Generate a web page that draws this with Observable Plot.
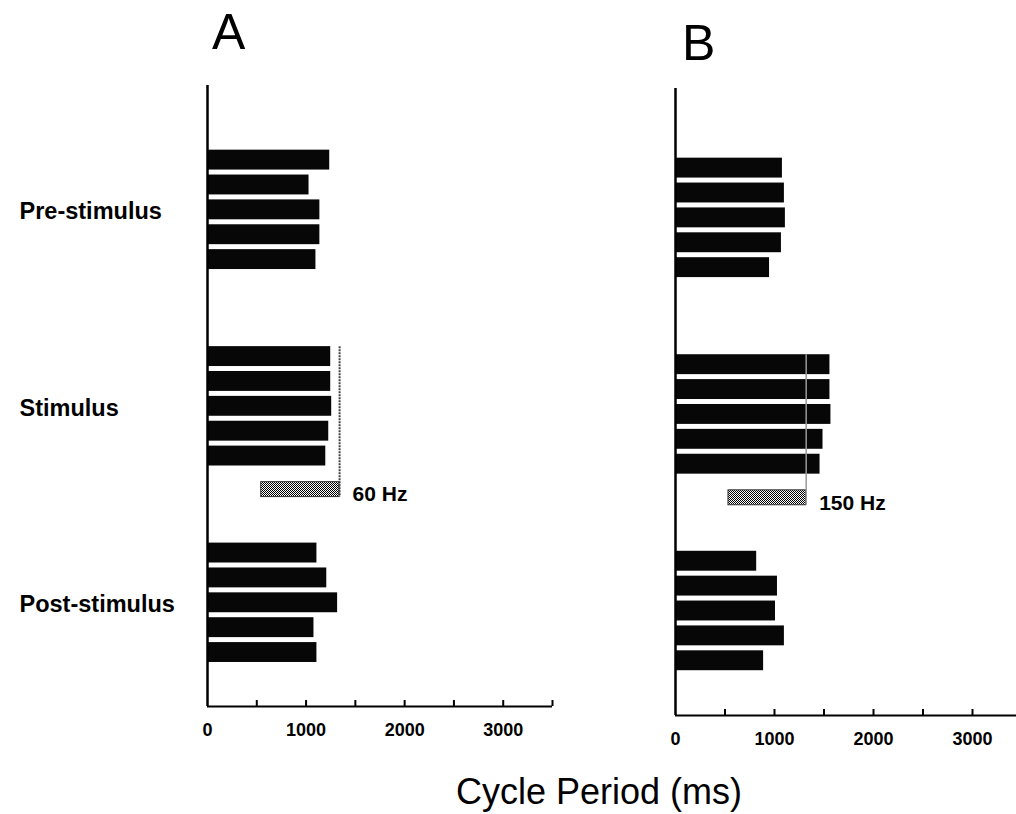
<!DOCTYPE html>
<html>
<head>
<meta charset="utf-8">
<script src="https://cdn.jsdelivr.net/npm/d3@7"></script>
<script src="https://cdn.jsdelivr.net/npm/@observablehq/plot@0.6"></script>
<style>
  html, body { margin: 0; padding: 0; background: #fff; overflow: hidden; }
  #page { position: relative; width: 1016px; height: 814px; background: #fff; font-family: "Liberation Sans", Arial, sans-serif; overflow: hidden; }
  .panel { position: absolute; top: 0; width: 560px; height: 760px; }
  .panel svg { max-width: none !important; }
  .title { position: absolute; line-height: 1; color: #000; white-space: nowrap; }
</style>
</head>
<body>
<div id="page">
  <div class="title" style="left:212px; top:7px; font-size:50px;">A</div>
  <div class="title" style="left:682px; top:18px; font-size:50px;">B</div>
  <div class="title" style="left:399px; width:400px; text-align:center; top:774px; font-size:36px;">Cycle Period (ms)</div>
  <div id="panelA" class="panel" style="left:0px;"></div>
  <div id="panelB" class="panel" style="left:470px;"></div>
</div>
<script>
// ---- data (cycle periods in ms) ----
const groups = ["Pre-stimulus", "Stimulus", "Post-stimulus"];
const periodsA_pre  = [1240, 1030, 1140, 1140, 1100];
const periodsA_stim = [1250, 1250, 1260, 1230, 1200];
const periodsA_post = [1110, 1210, 1320, 1080, 1110];
const periodsB_pre  = [1080, 1100, 1110, 1070, 950];
const periodsB_stim = [1560, 1560, 1570, 1490, 1460];
const periodsB_post = [820, 1030, 1010, 1100, 890];
const stimWindowA = [545, 1340];
const stimWindowB = [535, 1320];
const stimLabelA = "60 Hz";
const stimLabelB = "150 Hz";
const tickValues = [0, 500, 1000, 1500, 2000, 2500, 3000, 3500];
const tickLabels = [0, 1000, 2000, 3000];

// ---- layout (row units) ----
const groupSpacing = 7.9;
const hatchOffset = 3.35;
const FONT = "Liberation Sans, Arial, sans-serif";

function buildRows(series) {
  const rows = [];
  series.forEach((vals, g) => {
    vals.forEach((v, i) => rows.push({group: groups[g], value: v, row: g * groupSpacing + (i - 2)}));
  });
  return rows;
}

function makePanel({series, stimWindow, stimLabel, yDomain, yRange, marginLeft, marginRight, showLabels, patternId, lineStroke, lineDash, lineWidth}) {
  const bars = buildRows(series);
  const stimRow = groupSpacing; // center of Stimulus group
  const hatchRow = stimRow + hatchOffset;
  const stim = [{start: stimWindow[0], end: stimWindow[1], row: hatchRow, label: stimLabel}];
  const yBottom = yDomain[1], yTop = yDomain[0];

  const marks = [
    Plot.rect(bars, {x1: 0, x2: "value", y1: d => d.row - 0.4, y2: d => d.row + 0.4, fill: "#070707"}),
    Plot.rect(stim, {x1: "start", x2: "end", y1: d => d.row - 0.3, y2: d => d.row + 0.3,
      fill: `url(#${patternId})`, stroke: "#333", strokeWidth: 1}),
    Plot.ruleX(stim, {x: "end", y1: stimRow - 2.4, y2: hatchRow + 0.3, stroke: lineStroke, strokeWidth: lineWidth, strokeDasharray: lineDash}),
    Plot.text(stim, {x: "end", y: "row", text: "label", dx: 13, dy: 5, textAnchor: "start",
      fontSize: 21, fontWeight: "bold", fill: "#000"}),
    // axes lines
    Plot.ruleX([0], {y1: yTop, y2: yBottom, stroke: "#000", strokeWidth: 2.5}),
    Plot.ruleY([yBottom], {x1: 0, x2: 3500, stroke: "#000", strokeWidth: 2.2}),
    // small upward ticks
    Plot.ruleX(tickValues.slice(1), {y1: yBottom, y2: yBottom - 0.24, stroke: "#000", strokeWidth: 2}),
    Plot.axisX(tickLabels, {tickSize: 0, tickPadding: 17, fontSize: 18, fontWeight: "bold", label: null, tickFormat: d => String(d)})
  ];
  if (showLabels) {
    marks.push(Plot.text(groups, {text: d => d, y: (d, i) => i * groupSpacing, frameAnchor: "left",
      dx: -188, dy: 2, textAnchor: "start", fontSize: 23.5, fontWeight: "bold", fill: "#000"}));
  }

  const svg = Plot.plot({
    width: 560,
    height: 760,
    marginLeft, marginRight,
    marginTop: yRange[0],
    marginBottom: 760 - yRange[1],
    style: {fontFamily: FONT, fontSize: "18px", background: "transparent", overflow: "visible", color: "#000", maxWidth: "none"},
    x: {domain: [0, 3500], label: null},
    y: {domain: yDomain, range: yRange, axis: null},
    marks
  });

  const defs = d3.select(svg).insert("defs", ":first-child");
  const pat = defs.append("pattern").attr("id", patternId).attr("width", 2).attr("height", 2)
    .attr("patternUnits", "userSpaceOnUse");
  pat.append("rect").attr("width", 2).attr("height", 2).attr("fill", "#fff");
  pat.append("rect").attr("x", 0).attr("y", 0).attr("width", 1).attr("height", 1).attr("fill", "#000");
  pat.append("rect").attr("x", 1).attr("y", 1).attr("width", 1).attr("height", 1).attr("fill", "#000");
  return svg;
}

document.getElementById("panelA").appendChild(makePanel({
  series: [periodsA_pre, periodsA_stim, periodsA_post],
  stimWindow: stimWindowA, stimLabel: stimLabelA,
  yDomain: [-5.0, 19.97], yRange: [85, 706],
  marginLeft: 207, marginRight: 8,
  showLabels: true, patternId: "checkA",
  lineStroke: "#444", lineDash: "2,1", lineWidth: 2
}));

document.getElementById("panelB").appendChild(makePanel({
  series: [periodsB_pre, periodsB_stim, periodsB_post],
  stimWindow: stimWindowB, stimLabel: stimLabelB,
  yDomain: [-5.2, 20.0], yRange: [88, 715],
  marginLeft: 205, marginRight: 8.5,
  showLabels: false, patternId: "checkB",
  lineStroke: "#999", lineDash: null, lineWidth: 1.5
}));
</script>
</body>
</html>
